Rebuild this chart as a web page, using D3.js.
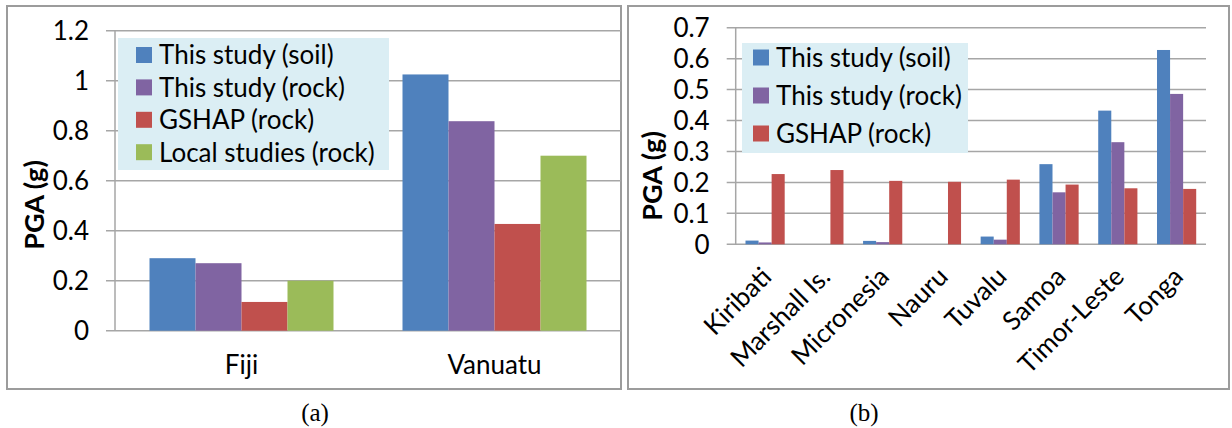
<!DOCTYPE html>
<html>
<head>
<meta charset="utf-8">
<script src="https://cdn.jsdelivr.net/npm/d3@7"></script>
<style>
    html, body { margin: 0; padding: 0; background: #fff; }
    svg { display: block; }
    .tick-label, .legend-label, .cat-label { font-family: Lato, 'Open Sans', sans-serif; fill: #000; }
    .axis-title { font-family: Lato, 'Open Sans', sans-serif; font-weight: bold; fill: #000; }
    .caption { font-family: 'Liberation Serif', 'DejaVu Serif', serif; fill: #000; }
</style>
</head>
<body>
<svg id="chart" width="1232" height="428"></svg>
<script>
// panel (a): two countries, four series
var catsA = ['Fiji', 'Vanuatu'];
var seriesA = ['This study (soil)', 'This study (rock)', 'GSHAP (rock)', 'Local studies (rock)'];
var soilA = [0.29, 1.025];
var rockA = [0.27, 0.838];
var gshapA = [0.115, 0.427];
var localA = [0.2, 0.70];
var ticksA = [0, 0.2, 0.4, 0.6, 0.8, 1, 1.2];

// panel (b): eight countries, three series
var catsB = ['Kiribati', 'Marshall Is.', 'Micronesia', 'Nauru', 'Tuvalu', 'Samoa', 'Timor-Leste', 'Tonga'];
var seriesB = ['This study (soil)', 'This study (rock)', 'GSHAP (rock)'];
var soilB = [0.012, 0, 0.011, 0, 0.025, 0.259, 0.432, 0.628];
var rockB = [0.006, 0, 0.007, 0, 0.015, 0.168, 0.330, 0.486];
var gshapB = [0.227, 0.240, 0.205, 0.202, 0.209, 0.193, 0.181, 0.179];
var ticksB = [0, 0.1, 0.2, 0.3, 0.4, 0.5, 0.6, 0.7];

var colors = ['#4F81BD', '#8064A2', '#C0504D', '#9BBB59'];
var gridColor = '#A6A6A6';
var fs = '26px';

var svg = d3.select('#chart');

function drawPanel(p) {
    var g = svg.append('g');

    // outer frame
    g.append('rect')
        .attr('x', p.frame[0]).attr('y', p.frame[1])
        .attr('width', p.frame[2] - p.frame[0])
        .attr('height', p.frame[3] - p.frame[1])
        .attr('fill', 'none')
        .attr('stroke', '#9C9C9C')
        .attr('stroke-width', 2);

    var y = d3.scaleLinear().domain([0, p.ymax]).range([p.bottom, p.top]);
    var x0 = d3.scaleBand().domain(p.cats).range([p.left, p.right]);
    var nb = p.values.length;
    var bw = x0.bandwidth() / (nb + 1.5);
    var x1 = d3.scaleBand().domain(d3.range(nb))
        .range([0.75 * bw, x0.bandwidth() - 0.75 * bw]);

    // gridlines + tick marks
    g.selectAll('.grid').data(p.ticks)
        .enter().append('line')
            .attr('x1', p.left - 9)
            .attr('x2', p.right)
            .attr('y1', d => y(d))
            .attr('y2', d => y(d))
            .attr('stroke', gridColor)
            .attr('stroke-width', 1.5);

    g.append('line')
        .attr('x1', p.left).attr('x2', p.left)
        .attr('y1', y(p.ymax)).attr('y2', y(0))
        .attr('stroke', gridColor)
        .attr('stroke-width', 1.5);

    g.selectAll('.tick-label').data(p.ticks)
        .enter().append('text')
            .classed('tick-label', true)
            .attr('x', p.left - 26)
            .attr('y', d => y(d))
            .attr('dy', '0.36em')
            .attr('text-anchor', 'end')
            .style('font-size', fs)
            .text(d => String(+d.toFixed(1)));

    // bars
    p.values.forEach(function(vals, si) {
        g.selectAll('.bar-' + si).data(vals)
            .enter().append('rect')
                .attr('x', (d, i) => x0(p.cats[i]) + x1(si))
                .attr('width', x1.bandwidth())
                .attr('y', d => y(d))
                .attr('height', d => y(0) - y(d))
                .attr('fill', colors[si]);
    });

    // category labels
    g.selectAll('.cat-label').data(p.cats)
        .enter().append('text')
            .classed('cat-label', true)
            .style('font-size', fs)
            .attr('text-anchor', p.rotate ? 'end' : 'middle')
            .attr('transform', function(d) {
                var cx = x0(d) + x0.bandwidth() / 2;
                if (p.rotate)
                    return 'translate(' + (cx + 8) + ',' + (p.bottom + 34) + ') rotate(-45)';
                return 'translate(' + cx + ',' + (p.bottom + 43) + ')';
            })
            .text(d => d);

    // y title
    g.append('text')
        .classed('axis-title', true)
        .attr('transform', 'translate(' + p.titleXY[0] + ',' + p.titleXY[1] + ') rotate(-90)')
        .attr('text-anchor', 'middle')
        .attr('dy', '0.35em')
        .style('font-size', '27px')
        .text('PGA (g)');

    // legend
    var lg = g.append('g');
    lg.append('rect')
        .attr('x', p.legend.box[0]).attr('y', p.legend.box[1])
        .attr('width', p.legend.box[2] - p.legend.box[0])
        .attr('height', p.legend.box[3] - p.legend.box[1])
        .attr('fill', '#DBEEF4');
    var rows = lg.selectAll('.legend-row').data(p.series)
        .enter().append('g')
            .attr('transform', (d, i) => 'translate(' + p.legend.x + ',' + (p.legend.y0 + i * p.legend.dy) + ')');
    rows.append('rect')
        .attr('x', 0).attr('y', -8)
        .attr('width', 16).attr('height', 16)
        .attr('fill', (d, i) => colors[i]);
    rows.append('text')
        .classed('legend-label', true)
        .attr('x', 23)
        .attr('dy', '0.36em')
        .style('font-size', fs)
        .text(d => d);

    // caption under the panel
    svg.append('text')
        .classed('caption', true)
        .attr('x', p.caption[0]).attr('y', p.caption[1])
        .attr('text-anchor', 'middle')
        .style('font-size', '25px')
        .text(p.captionText);
}

drawPanel({
    frame: [7, 6, 621, 389],
    left: 115, right: 621, top: 30.7, bottom: 330.7,
    ymax: 1.2, ticks: ticksA,
    cats: catsA, series: seriesA,
    values: [soilA, rockA, gshapA, localA],
    rotate: false,
    titleXY: [35, 205],
    legend: { box: [118, 38, 389, 170], x: 136, y0: 55, dy: 32.4 },
    caption: [315, 421], captionText: '(a)'
});

drawPanel({
    frame: [628, 6, 1229, 389],
    left: 735.7, right: 1206, top: 27.7, bottom: 244.3,
    ymax: 0.7, ticks: ticksB,
    cats: catsB, series: seriesB,
    values: [soilB, rockB, gshapB],
    rotate: true,
    titleXY: [653, 176],
    legend: { box: [742, 43, 968, 153], x: 753, y0: 57.5, dy: 38 },
    caption: [864, 421], captionText: '(b)'
});
</script>
</body>
</html>
